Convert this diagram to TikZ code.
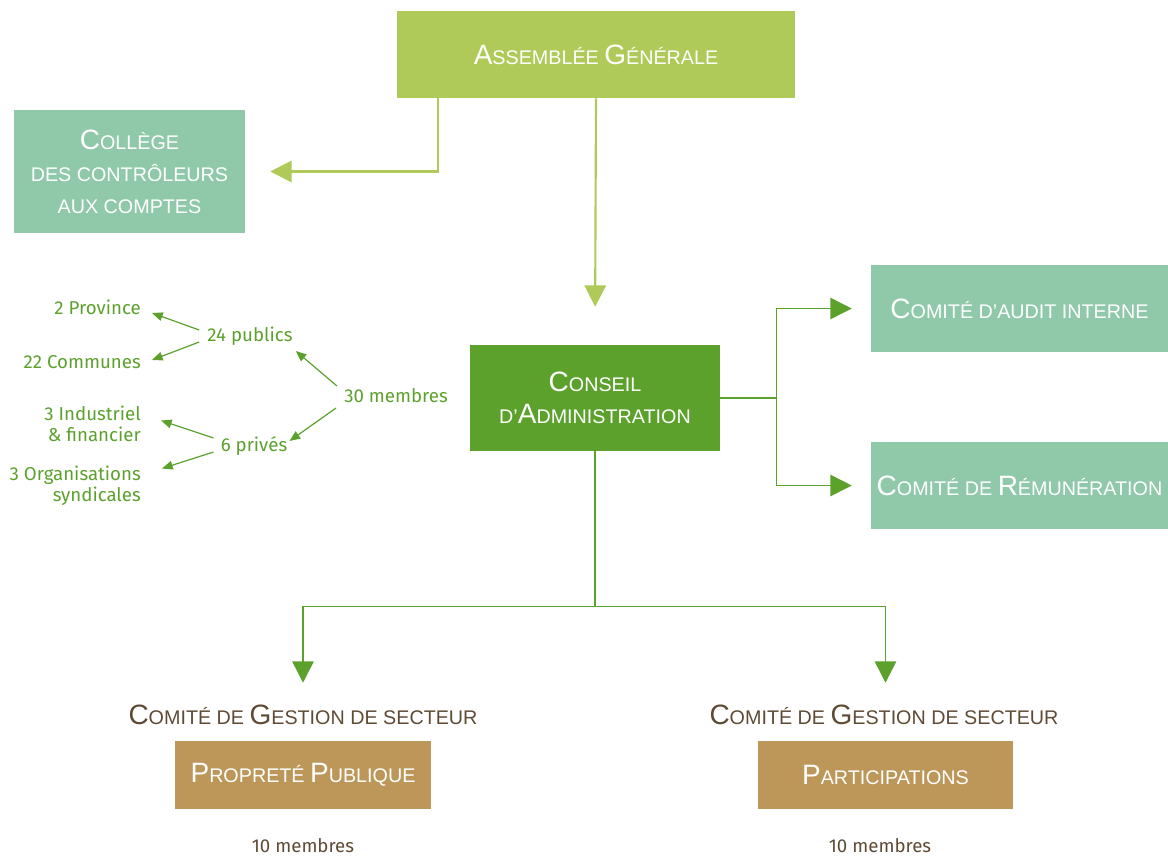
\documentclass[tikz,border=0pt]{standalone}
\usepackage{fontspec}
\setmainfont{Liberation Sans}
\newfontfamily\labelfont{Fira Sans}
\usetikzlibrary{arrows.meta,calc}

\definecolor{lime}{HTML}{AFCA58}
\definecolor{sage}{HTML}{8FC9A9}
\definecolor{leaf}{HTML}{5BA12C}
\definecolor{ochre}{HTML}{BC9759}
\definecolor{umber}{HTML}{5F4A34}

% initial capital of a small-caps title
\newcommand\bigc[1]{{\fontsize{21}{24}\selectfont #1}}

\tikzset{
  box/.style={rectangle, inner sep=0pt, align=center, text=white,
    font=\fontsize{14.8}{24}\selectfont},
  title/.style={inner sep=0pt, align=center, text=umber,
    font=\fontsize{14.8}{24}\selectfont},
  note/.style={inner sep=0pt, text=leaf, font=\labelfont\fontsize{14}{16}\selectfont},
  count/.style={inner sep=0pt, text=umber, font=\labelfont\fontsize{14}{16}\selectfont},
  limeline/.style={draw=lime, line width=1.6pt, -{Triangle[length=16pt,width=16pt]}, color=lime},
  leafline/.style={draw=leaf, line width=1.1pt},
  leafarrow/.style={leafline, -{Triangle[length=16pt,width=16pt]}, color=leaf},
  thin/.style={draw=leaf, line width=0.9pt, -{Triangle[length=8pt,width=6.5pt]}, color=leaf},
}

\begin{document}
\begin{tikzpicture}[x=0.75pt,y=-0.75pt]
\useasboundingbox (0,0) rectangle (1168,858);

% governing bodies
\node[box, fill=lime, minimum width=298.5pt, minimum height=65.25pt] (ag) at (596,54.5)
  {\bigc{A}SSEMBLÉE \bigc{G}ÉNÉRALE};
\node[box, fill=sage, minimum width=173.25pt, minimum height=92.25pt] (college) at (129.5,171.5)
  {\bigc{C}OLLÈGE\\DES CONTRÔLEURS\\AUX COMPTES};
\node[box, fill=leaf, minimum width=187.5pt, minimum height=79.5pt] (ca) at (595,398)
  {\bigc{C}ONSEIL\\D’\bigc{A}DMINISTRATION};
\node[box, fill=sage, minimum width=222.75pt, minimum height=65.25pt] (audit) at (1019.5,308.5)
  {\bigc{C}OMITÉ D’AUDIT INTERNE};
\node[box, fill=sage, minimum width=222.75pt, minimum height=65.25pt] (remu) at (1019.5,485.5)
  {\bigc{C}OMITÉ DE \bigc{R}ÉMUNÉRATION};

% sector committees
\node[title] (t1) at (303,715) {\bigc{C}OMITÉ DE \bigc{G}ESTION DE SECTEUR};
\node[title] (t2) at (884,715) {\bigc{C}OMITÉ DE \bigc{G}ESTION DE SECTEUR};
\node[box, fill=ochre, minimum width=192pt, minimum height=51pt] (pp) at (303,775)
  {\bigc{P}ROPRETÉ \bigc{P}UBLIQUE};
\node[box, fill=ochre, minimum width=191.25pt, minimum height=51pt] (part) at (885.5,775)
  {\bigc{P}ARTICIPATIONS};
\node[count] (n1) at (303,846) {10 membres};
\node[count] (n2) at (880,846) {10 membres};

% composition of the board
\node[note, anchor=east] (prov) at (141,307) {2 Province};
\node[note, anchor=east] (comm) at (141,362) {22 Communes};
\node[note, anchor=east, align=right] (ind) at (141,423.5) {3 Industriel\\\& financier};
\node[note, anchor=east, align=right] (org) at (141,485.5) {3 Organisations\\syndicales};
\node[note] (pub) at (250,336) {24 publics};
\node[note] (priv) at (254,446) {6 privés};
\node[note] (tot) at (396,396) {30 membres};

% connectors from the general assembly
\draw[limeline, shorten >=18.75pt] ($(ag.south west)+(41,0)$) |- (college.east);
\draw[limeline, shorten >=28.5pt] (ag.south) -- (ca.north);

% board to its committees
\draw[leafline] (ca.east) -- ++(56,0) coordinate (j);
\draw[leafarrow, shorten >=14.25pt] (j) |- (audit.west);
\draw[leafarrow, shorten >=14.25pt] (j) |- (remu.west);

% board to the sector committees
\draw[leafline] (ca.south) -- ++(0,155) coordinate (k);
\draw[leafarrow, shorten >=43.5pt] (k) -| (pp.north);
\draw[leafarrow, shorten >=43.5pt] (k) -| (part.north);

% membership breakdown
\draw[thin] ($(tot.west)+(-7,-10)$) -- ($(pub.east)+(3,15)$);
\draw[thin] ($(tot.west)+(-8,12)$) -- ($(priv.east)+(2,-5)$);
\draw[thin] ($(pub.west)+(-8,-6)$) -- ($(prov.east)+(11,6)$);
\draw[thin] ($(pub.west)+(-8,6)$) -- ($(comm.east)+(11,-2)$);
\draw[thin] ($(priv.west)+(-7,-8)$) -- ($(ind.east)+(20,-3)$);
\draw[thin] ($(priv.west)+(-7,6)$) -- ($(org.east)+(21,-17)$);
\end{tikzpicture}
\end{document}
